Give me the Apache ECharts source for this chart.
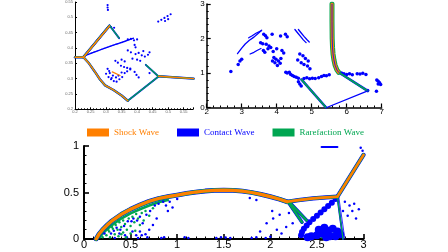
<!DOCTYPE html>
<html><head><meta charset="utf-8">
<script src="https://cdn.jsdelivr.net/npm/echarts@6/dist/echarts.min.js"></script>
<style>html,body{margin:0;padding:0;background:#fff}#c{width:448px;height:252px}</style>
</head><body><div id="c"></div>
<script>
// ---------- legend ----------
const legendNames = ['Shock Wave', 'Contact Wave', 'Rarefaction Wave'];

// ---------- top-left panel (x 0.2..0.58, y 0.2..0.55) ----------
const tlXTicks = [0.2, 0.25, 0.3, 0.35, 0.4, 0.45, 0.5, 0.55];
const tlYTicks = [0.2, 0.25, 0.3, 0.35, 0.4, 0.45, 0.5, 0.55];
const tlShockInflow = [[0.2, 0.37], [0.227, 0.37]];
const tlShockLower = [[0.227, 0.37], [0.245, 0.35], [0.265, 0.321], [0.28, 0.298], [0.297, 0.278], [0.324, 0.263], [0.35, 0.245], [0.37, 0.228]];
const tlShockOut = [[0.469, 0.308], [0.582, 0.300]];
const tlShockUpper = [[0.227, 0.37], [0.311, 0.472]];
const tlShockSmall = [[0.32, 0.322], [0.345, 0.31]];
const tlRareUpper = [[0.229, 0.372], [0.311, 0.474], [0.342, 0.432]];
const tlRareLower = [[0.37, 0.228], [0.469, 0.307], [0.428, 0.345]];
const tlContactLine = [[0.232, 0.375], [0.26, 0.386], [0.29, 0.397], [0.32, 0.408], [0.35, 0.418], [0.388, 0.432]];
const tlContactPts = [
  [0.305, 0.54], [0.305, 0.532], [0.306, 0.524],
  [0.468, 0.486], [0.478, 0.492], [0.488, 0.498], [0.498, 0.504], [0.508, 0.51], [0.49, 0.488], [0.50, 0.494],
  [0.316, 0.468], [0.326, 0.466],
  [0.37, 0.428], [0.38, 0.43], [0.39, 0.425], [0.40, 0.428], [0.392, 0.41], [0.395, 0.402],
  [0.37, 0.392], [0.38, 0.386], [0.395, 0.38], [0.405, 0.384], [0.415, 0.376], [0.425, 0.372], [0.435, 0.378],
  [0.40, 0.362], [0.41, 0.358], [0.385, 0.365], [0.36, 0.356], [0.35, 0.362], [0.338, 0.352], [0.33, 0.358], [0.42, 0.39], [0.44, 0.386],
  [0.30, 0.316], [0.308, 0.305], [0.316, 0.298], [0.325, 0.292], [0.334, 0.29], [0.343, 0.298], [0.352, 0.305],
  [0.312, 0.318], [0.322, 0.31], [0.332, 0.304], [0.36, 0.318], [0.368, 0.324], [0.378, 0.33], [0.305, 0.332],
  [0.31, 0.325], [0.318, 0.302], [0.34, 0.31], [0.35, 0.32],
  [0.348, 0.342], [0.358, 0.338], [0.368, 0.335], [0.378, 0.333],
  [0.392, 0.322], [0.398, 0.312], [0.405, 0.304], [0.44, 0.318]
];

// ---------- top-right panel (x 2..7, y 0..3) ----------
const trShock = [[5.58, 3.0], [5.58, 2.5], [5.585, 2.0], [5.595, 1.75], [5.61, 1.55], [5.635, 1.38], [5.67, 1.22], [5.72, 1.09], [5.77, 1.02]];
const trRareRight = [[5.8, 1.0], [6.6, 0.48]];
const trRareLeft = [[4.71, 0.81], [5.41, 0.0]];
const trContactLine = [[6.6, 0.48], [5.43, 0.0]];
const trArc1 = [[2.88, 1.56], [3.0, 1.72], [3.1, 1.84], [3.22, 1.95], [3.35, 2.04], [3.46, 2.14], [3.57, 2.24]];
const trArc2 = [[3.2, 2.02], [3.3, 2.08], [3.42, 2.16], [3.55, 2.22]];
const trArc3 = [[3.24, 1.55], [3.35, 1.6], [3.45, 1.66], [3.55, 1.71]];
const trArc4 = [[4.52, 2.26], [4.6, 2.16], [4.68, 2.06], [4.76, 1.96], [4.84, 1.88]];
const trArc5 = [[4.62, 2.26], [4.7, 2.16], [4.78, 2.06], [4.86, 1.97], [4.93, 1.9]];
const trContactPts = [
  [2.69, 1.04], [2.95, 1.35], [3.0, 1.4], [2.9, 1.25],
  [3.63, 2.12], [3.68, 2.08], [3.72, 2.02], [3.87, 2.12], [4.11, 2.07], [4.25, 2.12], [4.3, 2.05],
  [3.54, 1.88], [3.6, 1.85], [3.7, 1.83], [3.78, 1.78], [3.83, 1.74], [3.75, 1.7],
  [3.62, 1.65], [3.66, 1.6], [3.9, 1.62], [4.0, 1.7], [4.15, 1.65], [4.2, 1.58],
  [3.92, 1.45], [3.98, 1.4], [4.05, 1.35], [4.1, 1.28], [3.95, 1.3], [4.02, 1.22], [4.12, 1.42], [3.88, 1.35],
  [4.26, 1.02], [4.3, 1.0], [4.36, 1.02],
  [4.66, 1.55], [4.75, 1.5], [4.82, 1.42], [4.9, 1.35], [4.7, 1.3], [4.78, 1.25], [4.88, 1.2], [4.95, 1.12], [4.6, 1.38],
  [4.4, 0.96], [4.45, 0.93], [4.5, 0.9], [4.56, 0.88], [4.62, 0.85], [4.62, 0.75], [4.66, 0.68], [4.7, 0.62],
  [4.78, 0.84], [4.86, 0.86], [4.94, 0.83], [5.02, 0.85], [5.1, 0.84], [5.2, 0.86], [5.28, 0.9], [5.35, 0.93], [5.42, 0.92], [5.5, 0.95],
  [5.85, 1.0], [5.92, 0.98], [6.0, 0.96], [6.08, 0.98], [6.16, 0.95], [6.3, 0.98], [6.38, 0.97], [6.46, 0.99], [6.55, 0.96],
  [6.86, 0.8], [6.9, 0.76], [6.94, 0.72], [6.97, 0.67], [6.9, 0.68], [6.6, 0.49], [6.85, 0.47]
];

// ---------- bottom panel (x 0..3, y 0..1) ----------
const bShock = [[0.13, 0.0], [0.16, 0.05], [0.2, 0.1], [0.25, 0.15], [0.3, 0.195], [0.4, 0.265], [0.5, 0.32], [0.6, 0.365], [0.7, 0.405], [0.8, 0.435], [0.9, 0.455], [1.0, 0.472], [1.1, 0.49], [1.2, 0.505], [1.3, 0.516], [1.4, 0.523], [1.5, 0.525], [1.6, 0.523], [1.7, 0.515], [1.8, 0.5], [1.9, 0.48], [2.0, 0.456], [2.1, 0.428], [2.18, 0.40]];
const bMachStem = [[2.18, 0.40], [2.3, 0.418], [2.46, 0.437], [2.6, 0.448], [2.72, 0.455]];
const bReflected = [[2.72, 0.455], [3.0, 0.905]];
const bInnerBand = [[0.17, 0.02], [0.21, 0.07], [0.26, 0.115], [0.31, 0.155], [0.4, 0.22], [0.5, 0.275], [0.6, 0.32], [0.7, 0.36], [0.8, 0.395], [0.9, 0.42]];
const bRare1 = [[2.19, 0.40], [2.34, 0.18]];
const bRare2 = [[2.2, 0.40], [2.39, 0.2]];
const bSlip = [[2.72, 0.45], [2.78, 0.0]];
const bSlipEdge = [[2.735, 0.45], [2.8, 0.0]];
const bTopContact = [[2.55, 0.99], [2.72, 0.99]];
const bGreenPts = [
  [0.2, 0.02], [0.24, 0.04], [0.27, 0.08], [0.31, 0.11], [0.34, 0.15], [0.38, 0.18], [0.42, 0.2], [0.28, 0.02], [0.33, 0.05],
  [0.36, 0.1], [0.4, 0.13], [0.44, 0.16], [0.48, 0.22], [0.52, 0.24], [0.56, 0.27], [0.37, 0.03], [0.42, 0.07], [0.46, 0.1],
  [0.5, 0.14], [0.54, 0.18], [0.58, 0.22], [0.62, 0.28], [0.66, 0.3], [0.45, 0.02], [0.5, 0.06], [0.55, 0.09], [0.6, 0.15],
  [0.64, 0.2], [0.7, 0.25], [0.74, 0.33], [0.3, 0.13], [0.26, 0.1], [0.35, 0.22], [0.4, 0.05],
  [2.64, 0.37], [2.56, 0.3], [2.48, 0.23], [2.4, 0.16], [2.35, 0.09], [2.6, 0.06], [2.68, 0.06], [2.55, 0.02]
];
const bContactPts = [
  [0.22, 0.06], [0.29, 0.06], [0.32, 0.09], [0.35, 0.12], [0.39, 0.1], [0.43, 0.14], [0.47, 0.19], [0.51, 0.19], [0.53, 0.22],
  [0.57, 0.2], [0.6, 0.24], [0.63, 0.17], [0.67, 0.26], [0.71, 0.3], [0.76, 0.36], [0.8, 0.38], [0.85, 0.4], [0.88, 0.36],
  [0.92, 0.4], [0.95, 0.34], [1.0, 0.43], [0.9, 0.3], [0.33, 0.01], [0.38, 0.06], [0.44, 0.04], [0.46, 0.02], [0.52, 0.08],
  [0.56, 0.04], [0.6, 0.08], [0.62, 0.04], [0.66, 0.05], [0.68, 0.02], [0.7, 0.1], [0.74, 0.15], [0.78, 0.22], [0.58, 0.01],
  [0.83, 0.01], [0.86, 0.02], [1.08, 0.02], [1.12, 0.01], [1.42, 0.01], [1.47, 0.02], [1.52, 0.015], [1.57, 0.01],
  [1.8, 0.01], [1.85, 0.02], [1.95, 0.01], [2.0, 0.025], [1.89, 0.08], [1.96, 0.17], [2.03, 0.22], [2.1, 0.26], [2.07, 0.1],
  [2.17, 0.13], [2.24, 0.17], [2.2, 0.28], [2.12, 0.06], [2.26, 0.3], [2.02, 0.3], [1.85, 0.42], [1.78, 0.44],
  [2.8, 0.4], [2.85, 0.36], [2.9, 0.38], [2.88, 0.3], [2.95, 0.32], [2.78, 0.3], [2.83, 0.25], [2.92, 0.22], [2.97, 0.98], [2.99, 0.95]
];
const bChain = [[2.7, 0.43], [2.66, 0.39], [2.62, 0.355], [2.58, 0.32], [2.54, 0.285], [2.5, 0.25], [2.46, 0.215], [2.42, 0.18], [2.39, 0.145], [2.36, 0.11], [2.34, 0.075], [2.33, 0.04]];
const bCluster = [[2.5, 0.04], [2.56, 0.06], [2.62, 0.09], [2.67, 0.11], [2.72, 0.08], [2.64, 0.03], [2.7, 0.03], [2.58, 0.12], [2.75, 0.05], [2.44, 0.03], [2.4, 0.02], [2.52, 0.1], [2.6, 0.02]];

// ---------- rendering ----------
const C_SHOCK = '#ff7f00', C_CONTACT = '#0000ff', C_RARE = '#00a651';
const series = [];
// legend anchors
series.push({ name: legendNames[0], type: 'scatter', data: [], itemStyle: { color: C_SHOCK, opacity: 1 } });
series.push({ name: legendNames[1], type: 'scatter', data: [], itemStyle: { color: C_CONTACT, opacity: 1 } });
series.push({ name: legendNames[2], type: 'scatter', data: [], itemStyle: { color: C_RARE, opacity: 1 } });

function addLine(g, data, color, width, z, dash) {
  series.push({ type: 'line', xAxisIndex: g, yAxisIndex: g, data: data, symbol: 'none', silent: true, animation: false, z: z,
    lineStyle: { color: color, width: width, opacity: 1, type: dash || 'solid', cap: 'round', join: 'round' }, itemStyle: { color: color } });
}
function addShock(g, data, w, halo) {
  addLine(g, data, C_CONTACT, w + halo * 2, 3); addLine(g, data, C_RARE, w + halo, 4); addLine(g, data, C_SHOCK, w, 5);
}
function addRare(g, data, w, halo) { addLine(g, data, C_CONTACT, w + halo, 3); addLine(g, data, C_RARE, w, 4); }
function addPts(g, data, color, size, z) {
  series.push({ type: 'scatter', xAxisIndex: g, yAxisIndex: g, data: data, symbolSize: size, silent: true, animation: false, z: z,
    itemStyle: { color: color, opacity: 1 } });
}

// top-left
addPts(0, tlContactPts, C_CONTACT, 2.2, 2);
addLine(0, tlContactLine, C_CONTACT, 1.5, 2, [2, 1]);
addShock(0, tlShockInflow, 1.4, 0.5);
addShock(0, tlShockLower, 1.4, 0.5);
addShock(0, tlShockOut, 1.4, 0.5);
addShock(0, tlShockUpper, 1.6, 0.5);
addLine(0, tlShockSmall, C_SHOCK, 1.2, 5);
addRare(0, tlRareUpper, 1.3, 0.6);
addRare(0, tlRareLower, 1.3, 0.6);

// top-right
addPts(1, trContactPts, C_CONTACT, 3.5, 2);
[trArc1, trArc2, trArc3, trArc4, trArc5].forEach(a => addLine(1, a, C_CONTACT, 1.3, 2));
addLine(1, trShock, C_RARE, 5, 3);
addLine(1, trShock, C_SHOCK, 3, 4);
addLine(1, trShock, C_CONTACT, 0.8, 5);
addRare(1, trRareRight, 1.8, 0.8);
addRare(1, trRareLeft, 1.8, 0.8);
addLine(1, trContactLine, C_CONTACT, 1.3, 4);

// bottom
addPts(2, bContactPts, C_CONTACT, 2.5, 2);
addPts(2, bGreenPts, C_RARE, 2.5, 2);
addPts(2, bChain, C_CONTACT, 6, 2);
addPts(2, bCluster, C_CONTACT, 8, 2);
addLine(2, bInnerBand, C_RARE, 2.5, 2);
addShock(2, bShock, 3.2, 0.8);
addShock(2, bMachStem, 2.6, 0.8);
addShock(2, bReflected, 2.6, 0.8);
addRare(2, bRare1, 2.5, 1);
addRare(2, bRare2, 2.5, 1);
addRare(2, bSlip, 1.3, 0.6);
addLine(2, bSlipEdge, C_CONTACT, 0.8, 3);
addLine(2, bTopContact, C_CONTACT, 2, 3);

function onTick(ticks) {
  return function (v) {
    for (const t of ticks) if (Math.abs(v - t) < 1e-6) return String(t);
    return '';
  };
}
function axis(g, min, max, interval, fs, lw, tickLen, margin, fmt, labelColor) {
  return {
    type: 'value', gridIndex: g, min: min, max: max, interval: interval,
    axisLine: { show: true, onZero: false, lineStyle: { color: '#000', width: lw } },
    axisTick: { show: true, inside: true, length: tickLen, lineStyle: { color: '#000', width: Math.max(1, lw * 0.8) } },
    minorTick: { show: true, splitNumber: 5, length: tickLen / 2, lineStyle: { color: '#000', width: 1 } },
    splitLine: { show: false },
    axisLabel: { show: true, fontSize: fs, margin: margin, color: labelColor || '#000', fontFamily: 'Liberation Sans', formatter: fmt,
      showMinLabel: true, showMaxLabel: true, hideOverlap: false }
  };
}

const option = {
  animation: false,
  backgroundColor: '#fff',
  legend: {
    left: 82, top: 123, itemWidth: 22, itemHeight: 8, itemGap: 18, icon: 'rect', selectedMode: false,
    textStyle: { fontFamily: 'Liberation Serif', fontSize: 9 },
    data: [
      { name: legendNames[0], textStyle: { color: C_SHOCK } },
      { name: legendNames[1], textStyle: { color: C_CONTACT } },
      { name: legendNames[2], textStyle: { color: C_RARE } }
    ]
  },
  grid: [
    { left: 75, top: 1.5, width: 118, height: 107.8 },
    { left: 206.7, top: 2.5, width: 175, height: 105 },
    { left: 84, top: 146, width: 279.5, height: 93 }
  ],
  xAxis: [
    axis(0, 0.2, 0.58, 0.05, 4, 1, 2, 1, onTick(tlXTicks), '#666'),
    axis(1, 2, 7, 1, 8, 1.5, 4, 0),
    axis(2, 0, 3, 0.5, 11, 2, 5, 0)
  ],
  yAxis: [
    axis(0, 0.2, 0.55, 0.05, 4, 1, 2, 2, onTick(tlYTicks), '#666'),
    axis(1, 0, 3, 1, 8, 1.5, 4, 2),
    axis(2, 0, 1, 0.5, 11, 2, 5, 5)
  ],
  series: series
};
const chart = echarts.init(document.getElementById('c'), null, { renderer: 'canvas' });
chart.setOption(option);
</script>
</body></html>
